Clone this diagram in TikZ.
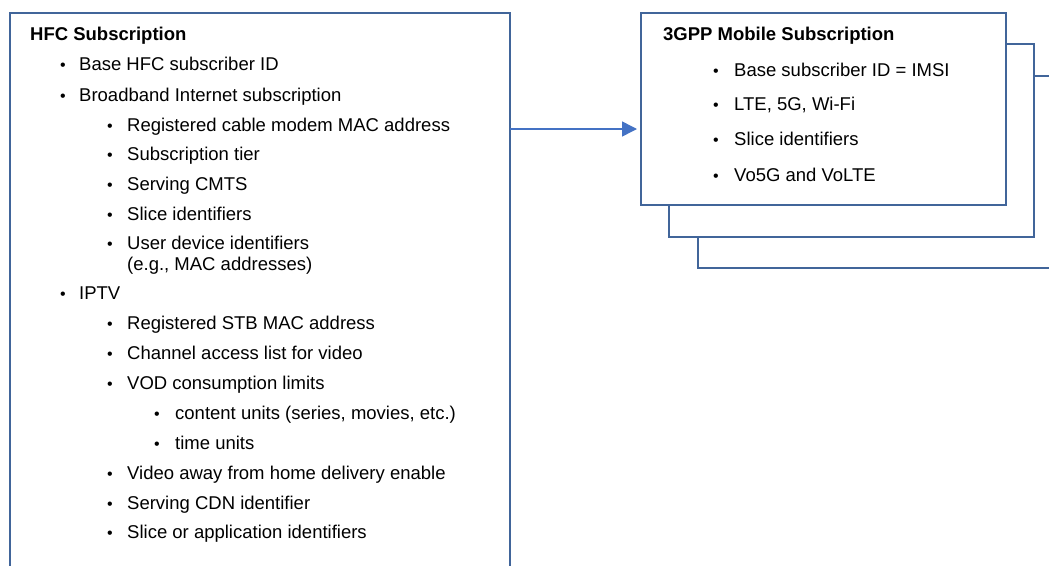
\documentclass[tikz,border=0pt]{standalone}
\usepackage{fontspec}
\setmainfont{Liberation Sans}
\usetikzlibrary{arrows.meta, positioning}

\definecolor{boxblue}{HTML}{41659A}
\definecolor{arrowblue}{HTML}{4472C4}

\begin{document}
\begin{tikzpicture}[x=1pt, y=-1pt, >={Triangle[length=15pt, width=15pt]}]
	\tikzstyle{frame} = [draw=boxblue, line width=2.2pt, fill=white]
	\tikzstyle{item} = [anchor=base west, inner sep=0pt, font=\fontsize{18.5}{22}\selectfont]
	\tikzstyle{head} = [item, font=\fontsize{18.5}{22}\selectfont\bfseries]
	\tikzstyle{bul} = [item, font=\fontsize{16}{22}\selectfont]

	\useasboundingbox (0,0) rectangle (1049,565);
	\clip (0,0) rectangle (1049,565);

	% stacked mobile subscriptions
	\draw[frame] (698,76) rectangle (1070,268);
	\draw[frame] (669,44) rectangle (1034,237);
	\draw[frame] (641,13) rectangle (1006,205);
	\coordinate (mob-in) at (641,129);

	% HFC subscription box
	\draw[frame] (10,13) rectangle (510,590);
	\coordinate (hfc-out) at (510,129);

	\node[head] (hfc-title) at (30,40.5) {HFC Subscription};
	\foreach \lvl/\y/\txt [count=\i] in {
		1/64/{Base HFC subscriber ID},
		1/95/{Broadband Internet subscription},
		2/125/{Registered cable modem MAC address},
		2/154/{Subscription tier},
		2/184/{Serving CMTS},
		2/214/{Slice identifiers},
		2/243/{User device identifiers},
		1/293/{IPTV},
		2/323/{Registered STB MAC address},
		2/353/{Channel access list for video},
		2/383/{VOD consumption limits},
		3/413/{content units (series, movies, etc.)},
		3/443/{time units},
		2/473/{Video away from home delivery enable},
		2/503/{Serving CDN identifier},
		2/532/{Slice or application identifiers}}
	{
		\node[bul] (hfc-b\i) at (13+47*\lvl, \y+6.5) {\textbullet};
		\node[item] (hfc-\i) at (31+48*\lvl, \y+6.5) {\txt};
	}
	\node[item] (hfc-note) at (127,270.5) {(e.g., MAC addresses)};

	\node[head] (mob-title) at (663,40.5) {3GPP Mobile Subscription};
	\foreach \y/\txt [count=\i] in {
		70/{Base subscriber ID = IMSI},
		104/{LTE, 5G, Wi-Fi},
		139/{Slice identifiers},
		175/{Vo5G and VoLTE}}
	{
		\node[bul] (mob-b\i) at (713, \y+6.5) {\textbullet};
		\node[item] (mob-\i) at (734, \y+6.5) {\txt};
	}

	\draw[->, arrowblue, line width=1.5pt] (hfc-out) -- ([xshift=-4pt]mob-in);
\end{tikzpicture}
\end{document}
